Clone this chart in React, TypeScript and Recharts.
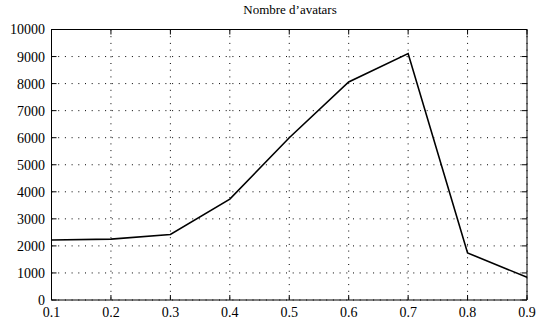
import React from "react";
import {
  LineChart,
  Line,
  XAxis,
  YAxis,
  CartesianGrid,
} from "recharts";

interface Point {
  x: number;
  avatars: number;
}

const xValues: number[] = [0.1, 0.2, 0.3, 0.4, 0.5, 0.6, 0.7, 0.8, 0.9];
const avatarCounts: number[] = [2220, 2250, 2420, 3730, 6000, 8060, 9110, 1740, 840];
const xTicks: number[] = [0.1, 0.2, 0.3, 0.4, 0.5, 0.6, 0.7, 0.8, 0.9];
const yTicks: number[] = [0, 1000, 2000, 3000, 4000, 5000, 6000, 7000, 8000, 9000, 10000];
const title = "Nombre d\u2019avatars";

const data: Point[] = xValues.map((x, i) => ({ x, avatars: avatarCounts[i] }));

const font = "Liberation Serif, Times New Roman, serif";
const noLabel = () => "";

const XTick = (props: any) => {
  const { x, y, payload } = props;
  return (
    <text x={x} y={y} dy="0.71em" textAnchor="middle" fontFamily={font} fontSize={14} fill="#000">
      {payload.value}
    </text>
  );
};

const YTick = (props: any) => {
  const { x, y, payload } = props;
  return (
    <text x={x} y={y} dy="0.355em" textAnchor="end" fontFamily={font} fontSize={14} fill="#000">
      {payload.value}
    </text>
  );
};

const App = () => {
  return (
    <div
      style={{
        position: "absolute",
        left: 0,
        top: 0,
        width: 537,
        height: 323,
        background: "#fff",
        fontFamily: font,
      }}
    >
      <div
        style={{
          position: "absolute",
          left: 190,
          width: 200,
          top: 2,
          textAlign: "center",
          fontSize: 13,
          color: "#000",
        }}
      >
        {title}
      </div>
      <LineChart
        width={537}
        height={323}
        data={data}
        margin={{ top: 28.5, right: 9, left: 0, bottom: 0 }}
      >
        <CartesianGrid
          xAxisId="bottom"
          yAxisId="left"
          stroke="#000"
          strokeDasharray="1 5.7"
        />
        <XAxis
          xAxisId="bottom"
          dataKey="x"
          type="number"
          domain={[0.1, 0.9]}
          ticks={xTicks}
          height={23}
          tickSize={-5}
          tickMargin={12}
          stroke="#000"
          tick={<XTick />}
          interval={0}
        />
        <XAxis
          xAxisId="top"
          dataKey="x"
          type="number"
          orientation="top"
          domain={[0.1, 0.9]}
          ticks={xTicks}
          height={1}
          tickSize={-5}
          stroke="#000"
          tickFormatter={noLabel}
          interval={0}
        />
        <YAxis
          yAxisId="left"
          type="number"
          domain={[0, 10000]}
          ticks={yTicks}
          width={51.5}
          tickSize={-5}
          tickMargin={11.5}
          stroke="#000"
          tick={<YTick />}
          interval={0}
        />
        <YAxis
          yAxisId="right"
          type="number"
          orientation="right"
          domain={[0, 10000]}
          ticks={yTicks}
          width={1}
          tickSize={-5}
          stroke="#000"
          tickFormatter={noLabel}
          interval={0}
        />
        <Line
          xAxisId="top"
          yAxisId="right"
          dataKey="avatars"
          stroke="none"
          dot={false}
          activeDot={false}
          isAnimationActive={false}
        />
        <Line
          xAxisId="bottom"
          yAxisId="left"
          dataKey="avatars"
          stroke="#000"
          strokeWidth={1.6}
          dot={false}
          isAnimationActive={false}
        />
      </LineChart>
    </div>
  );
};

export default App;
